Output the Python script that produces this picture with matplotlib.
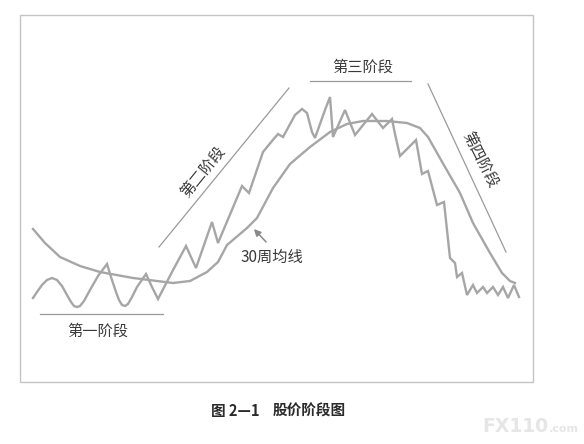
import matplotlib
matplotlib.use("Agg")
import matplotlib.pyplot as plt
from matplotlib.patches import Rectangle

plt.rcParams['font.family'] = ['Noto Sans CJK SC', 'DejaVu Sans']

# Price line (weekly price) (pixel-like coordinates)
price_x = [33, 37, 42, 47, 52, 57, 62, 67, 71, 74, 77, 80, 84, 90, 98, 107, 111, 116, 119, 122, 125, 128,
           132, 137, 146, 152, 158,
           172, 186, 196, 212, 218, 242, 249, 263, 272, 278, 283, 289, 295, 302, 307, 312, 315,
           325, 330, 333, 345, 355, 372, 383, 392, 395, 400, 416, 422, 428, 437, 444, 450,
           455, 457, 462, 467, 473, 477, 483, 487, 493, 498, 503, 508, 514, 519]
price_y = [298, 292, 285, 280, 278, 280, 286, 295, 302, 306, 307, 306, 301, 290, 276, 264, 277, 292, 300, 305, 306, 304,
           297, 287, 274, 287, 299,
           272, 246, 268, 222, 243, 186, 193, 152, 141, 134, 137, 126, 115, 109, 113, 132, 138,
           110, 97, 137, 110, 135, 114, 128, 119, 134, 156, 140, 174, 171, 205, 202, 258,
           263, 277, 273, 295, 285, 293, 287, 293, 287, 295, 287, 298, 285, 297]

# 30-week moving average
ma_x = [33, 45, 60, 80, 100, 133, 173, 190, 207, 218, 227, 247, 257, 273, 290, 310, 330, 347, 363,
        387, 407, 420, 428, 445, 460, 473, 490, 502, 510, 515]
ma_y = [229, 243, 257, 266, 272, 278, 283, 281, 272, 262, 245, 228, 218, 188, 164, 147, 132, 124, 121,
        121, 123, 128, 137, 167, 193, 223, 253, 273, 281, 283]

stage_labels = ['第一阶段', '第二阶段', '第三阶段', '第四阶段']
ma_label = '30周均线'
caption_left = '图 2—1'
caption_right = '股价阶段图'

fig = plt.figure(figsize=(5.84, 4.44), dpi=100)
ax = fig.add_axes([0, 0, 1, 1])
ax.set_xlim(0, 584)
ax.set_ylim(444, 0)
ax.axis('off')

ax.add_patch(Rectangle((20, 15), 513, 367, fill=False, edgecolor='#c4c4c4', lw=1.0))

line_col = '#a6a6a6'
ax.plot(ma_x, ma_y, color=line_col, lw=1.7, solid_joinstyle='round')
ax.plot(price_x, price_y, color=line_col, lw=1.7, solid_joinstyle='miter')

thin = '#9a9a9a'
ax.plot([40, 163], [314, 314], color=thin, lw=0.9)
ax.plot([159, 289], [247, 88], color=thin, lw=0.9)
ax.plot([310, 411], [81, 81], color=thin, lw=0.9)
ax.plot([428, 506], [84, 252], color=thin, lw=0.9)

tc = '#3a3a3a'
ax.text(98, 331, stage_labels[0], fontsize=11, color=tc, ha='center', va='center')
ax.text(203, 172, stage_labels[1], fontsize=11, color=tc, ha='center', va='center', rotation=51)
ax.text(363, 67, stage_labels[2], fontsize=11, color=tc, ha='center', va='center')
ax.text(480, 160, stage_labels[3], fontsize=11, color=tc, ha='center', va='center', rotation=-63)

ax.annotate('', xy=(252, 227), xytext=(268, 244),
            arrowprops=dict(arrowstyle='-|>', color='#8a8a8a', lw=1.1, mutation_scale=10))
ax.text(272, 257, ma_label, fontsize=11, color=tc, ha='center', va='center')

ax.text(211, 411, caption_left, fontsize=10.5, color='#2a2a2a', ha='left', va='center', fontweight='bold')
ax.text(273, 411, caption_right, fontsize=10.5, color='#2a2a2a', ha='left', va='center', fontweight='bold')

ax.text(482, 426, 'FX110', fontsize=13.5, color='#e6e6e6', ha='left', va='center', fontweight='bold',
        family='DejaVu Sans')
ax.text(549, 429, '.com', fontsize=8, color='#e6e6e6', ha='left', va='center', fontweight='bold',
        family='DejaVu Sans')

fig.savefig('out.png', dpi=100, facecolor='white')
